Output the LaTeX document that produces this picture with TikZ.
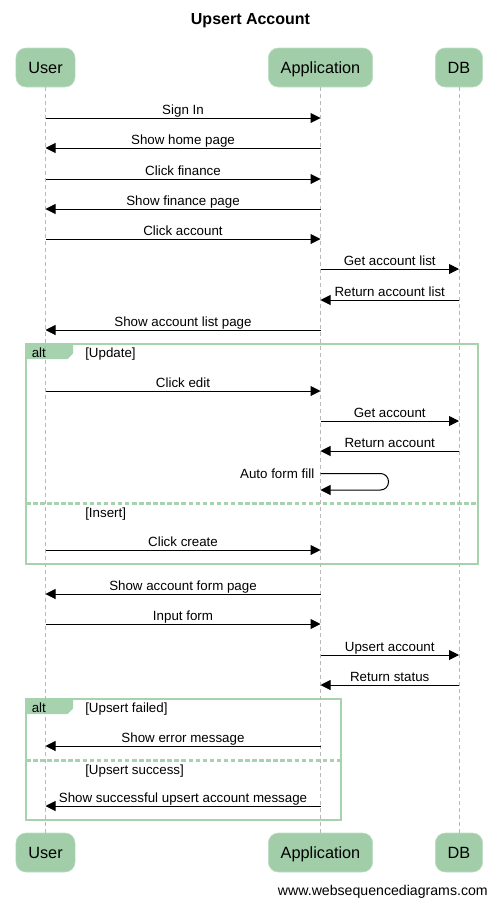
\documentclass[tikz,border=0pt]{standalone}
\usepackage{fontspec}
\setmainfont{Liberation Sans}
\usetikzlibrary{arrows.meta}
\definecolor{actorgreen}{RGB}{161,206,169}
\definecolor{framegreen}{RGB}{166,211,174}
\definecolor{lifegray}{RGB}{185,185,185}
\tikzset{
  actor/.style={draw=actorgreen!70!white, fill=actorgreen, rounded corners=7.5pt,
    minimum height=29.25pt, inner xsep=9.3pt, text height=8.7pt, text depth=0pt,
    font=\fontsize{12.2}{14}\selectfont},
  lifeline/.style={draw=lifegray, line width=0.75pt, dash pattern=on 3pt off 2.25pt},
  msg/.style={-{Triangle[length=7.5pt,width=7.5pt]}, line width=0.75pt},
  msglabel/.style={anchor=base, yshift=3pt, inner sep=0pt, font=\fontsize{10}{12}\selectfont},
  altframe/.style={draw=framegreen, line width=1.5pt},
  altsplit/.style={draw=framegreen, line width=2.25pt, dash pattern=on 3.4pt off 1.9pt},
  guard/.style={anchor=base west, inner sep=0pt, font=\fontsize{10}{12}\selectfont},
}
\begin{document}
\begin{tikzpicture}[x=0.75pt, y=-0.75pt]
  \useasboundingbox (0,0) rectangle (498,907);
  \node[anchor=base, inner sep=0pt, font=\bfseries\fontsize{12}{14}\selectfont] (title) at (250.5,24.5) {Upsert Account};

  \node[actor] (user) at (45.5,67.5) {User};
  \node[actor] (app) at (320.5,67.5) {Application};
  \node[actor] (db) at (459,67.5) {DB};
  \node[actor] (userB) at (45.5,852.5) {User};
  \node[actor] (appB) at (320.5,852.5) {Application};
  \node[actor] (dbB) at (459,852.5) {DB};

  \draw[altframe] (26,344) rectangle (478,564);
  \fill[framegreen] (26,344) -- (73,344) -- (73,353.5) -- (67.5,359) -- (26,359) -- cycle;
  \draw[altsplit] (26,503.5) -- (478,503.5);

  \draw[altframe] (26,699) rectangle (341,820);
  \fill[framegreen] (26,699) -- (73,699) -- (73,708.5) -- (67.5,714) -- (26,714) -- cycle;
  \draw[altsplit] (26,760) -- (341,760);

  \foreach \a/\b in {user/userB, app/appB, db/dbB}
    \draw[lifeline] (\a) -- (\b);

  \node[guard] (alt1) at (31.5,357) {alt};
  \node[guard] (update) at (85,357) {[Update]};
  \node[guard] (insert) at (85,517) {[Insert]};
  \node[guard] (alt2) at (31.5,712.5) {alt};
  \node[guard] (failed) at (85,712.5) {[Upsert failed]};
  \node[guard] (success) at (85,774) {[Upsert success]};

  \foreach \y/\a/\b/\txt [count=\i] in {
      118/user/app/Sign In,
      148/app/user/Show home page,
      179/user/app/Click finance,
      209/app/user/Show finance page,
      239/user/app/Click account,
      269/app/db/Get account list,
      300/db/app/Return account list,
      330/app/user/Show account list page,
      391/user/app/Click edit,
      421/app/db/Get account,
      451/db/app/Return account,
      550/user/app/Click create,
      594/app/user/Show account form page,
      624/user/app/Input form,
      655/app/db/Upsert account,
      685/db/app/Return status,
      746/app/user/Show error message,
      806/app/user/Show successful upsert account message} {
    \coordinate (m\i from) at (\a |- 0,\y);
    \coordinate (m\i to) at (\b |- 0,\y);
    \draw[msg] (m\i from) -- node[msglabel] {\txt} (m\i to);
  }

  \coordinate (fillfrom) at (app |- 0,473.5);
  \coordinate (fillto) at (app |- 0,490);
  \draw[msg, rounded corners=6pt] (fillfrom) -- ++(68,0) -- ++(0,16.5) -- (fillto);
  \node[msglabel, anchor=base east, xshift=-4.5pt, yshift=-6.4pt] (fill) at (fillfrom) {Auto form fill};

  \node[anchor=base east, inner sep=0pt, font=\fontsize{10.6}{12}\selectfont] (site) at (488,895) {www.websequencediagrams.com};
\end{tikzpicture}
\end{document}
